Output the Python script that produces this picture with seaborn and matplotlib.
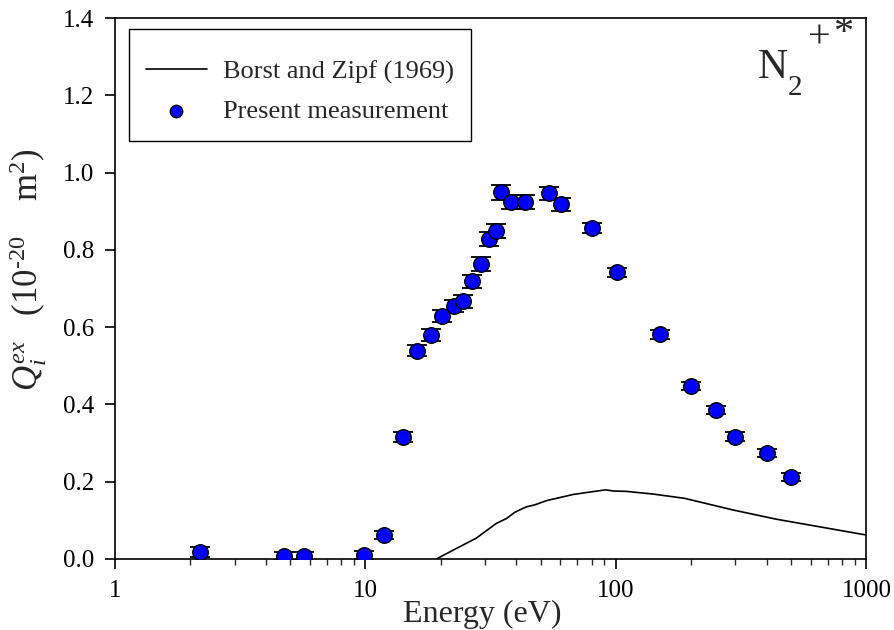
import numpy as np
import pandas as pd
import matplotlib
matplotlib.use("Agg")
import matplotlib.pyplot as plt
import matplotlib.ticker as mticker
from matplotlib.patches import Rectangle
import seaborn as sns

# Present measurement: electron energy (eV), cross section (1e-20 m^2), uncertainty
energy = [2.18, 4.71, 5.66, 9.88, 11.9, 14.1, 16.1, 18.2, 20.3, 22.5, 24.6, 26.7,
          28.8, 31.2, 33.1, 34.9, 38.2, 43.4, 53.9, 60.6, 80.0, 101, 150, 200,
          250, 300, 400, 500]
cross_section = [0.018, 0.007, 0.007, 0.010, 0.063, 0.316, 0.539, 0.580, 0.629,
                 0.655, 0.667, 0.719, 0.763, 0.827, 0.849, 0.949, 0.924, 0.925,
                 0.946, 0.918, 0.857, 0.742, 0.581, 0.448, 0.386, 0.317, 0.274,
                 0.213]
uncertainty = [0.012, 0.010, 0.010, 0.010, 0.010, 0.012, 0.014, 0.015, 0.015,
               0.016, 0.017, 0.017, 0.018, 0.018, 0.018, 0.019, 0.019, 0.018,
               0.017, 0.017, 0.013, 0.011, 0.011, 0.011, 0.011, 0.011, 0.010,
               0.010]

# Borst and Zipf (1969)
bz_energy = [19.2, 22.4, 27.7, 33.3, 36.6, 39.5, 43.9, 47.4, 52.8, 67.5, 76.3,
             91.0, 97.5, 110, 141, 188, 293, 437, 1000]
bz_cross_section = [0.0, 0.023, 0.054, 0.092, 0.105, 0.121, 0.135, 0.140, 0.151,
                    0.167, 0.172, 0.179, 0.176, 0.175, 0.168, 0.157, 0.127, 0.103,
                    0.062]

x_ticks = [1, 10, 100, 1000]
x_tick_labels = ["1", "10", "100", "1000"]
y_ticks = [0.0, 0.2, 0.4, 0.6, 0.8, 1.0, 1.2, 1.4]

meas = pd.DataFrame({"E": energy, "Q": cross_section, "err": uncertainty})
bz = pd.DataFrame({"E": bz_energy, "Q": bz_cross_section})

sns.set_theme(style="ticks")
plt.rcParams["font.family"] = ["Liberation Serif", "DejaVu Serif"]
plt.rcParams["mathtext.fontset"] = "custom"
plt.rcParams["mathtext.rm"] = "Liberation Serif"
plt.rcParams["mathtext.it"] = "Liberation Serif:italic"
plt.rcParams["mathtext.bf"] = "Liberation Serif:bold"

W, H = 895, 630
fig = plt.figure(figsize=(W / 100, H / 100), dpi=100)
ax = fig.add_axes([0.1285, 0.1127, 0.8395, 0.8587])

sns.lineplot(data=bz, x="E", y="Q", ax=ax, color="black", lw=1.2,
             label="Borst and Zipf (1969)", zorder=2)
ax.errorbar(meas["E"], meas["Q"], yerr=meas["err"], fmt="none",
            ecolor="black", elinewidth=1.0, capsize=7.5, capthick=1.3, zorder=3)
sns.scatterplot(data=meas, x="E", y="Q", ax=ax, color="#0000ff",
                edgecolor="black", linewidth=1.0, s=125, zorder=4,
                label="Present measurement")

ax.set_xscale("log")
ax.set_xlim(1, 1000)
ax.set_ylim(0, 1.4)
ax.set_xticks(x_ticks)
ax.set_xticklabels(x_tick_labels)
ax.xaxis.set_minor_locator(mticker.LogLocator(base=10, subs=np.arange(2, 10)))
ax.xaxis.set_minor_formatter(mticker.NullFormatter())
ax.set_yticks(y_ticks)
ax.yaxis.set_major_formatter(mticker.FormatStrFormatter("%.1f"))

ax.tick_params(axis="both", which="major", direction="out", length=7, width=1.2,
               labelsize=18, colors="black", pad=8)
ax.tick_params(axis="x", which="minor", direction="out", length=4, width=1.0)
ax.tick_params(top=False, right=False, which="both")
for side in ["left", "bottom", "top", "right"]:
    ax.spines[side].set_visible(True)
    ax.spines[side].set_color("black")
    ax.spines[side].set_linewidth(1.2)

ax.set_xlabel("Energy (eV)", fontsize=23, labelpad=0)
ax.xaxis.set_label_coords(0.489, -0.075)
ax.set_ylabel("$Q_i^{ex}$   (10$^{\u201020}$    m$^{2}$)", fontsize=25, labelpad=4)
ax.yaxis.set_label_coords(-0.088, 0.535)

# species label N2 +*
def fig_xy(px, py):
    return px / W, 1 - py / H

fig.text(*fig_xy(758, 78), "N", fontsize=30, ha="left", va="baseline")
fig.text(*fig_xy(788, 95), "2", fontsize=21, ha="left", va="baseline")
fig.text(*fig_xy(819, 48), "+", fontsize=29, ha="center", va="baseline")
fig.text(*fig_xy(843, 43), "*", fontsize=29, ha="center", va="baseline")

# legend: entries without frame, frame drawn as a separate box
leg = ax.legend(loc="upper left", bbox_to_anchor=(0.0413, 0.922), fontsize=19,
                frameon=False, handlelength=2.3, handletextpad=0.6,
                borderpad=0, labelspacing=0.58, borderaxespad=0,
                markerscale=0.8)
ax.add_patch(Rectangle((0.0186, 0.772), 0.474 - 0.0186, 0.9797 - 0.772,
                       transform=ax.transAxes, facecolor="white",
                       edgecolor="black", lw=1.0, zorder=5))
leg.set_zorder(6)

fig.savefig("out.png", dpi=100)
